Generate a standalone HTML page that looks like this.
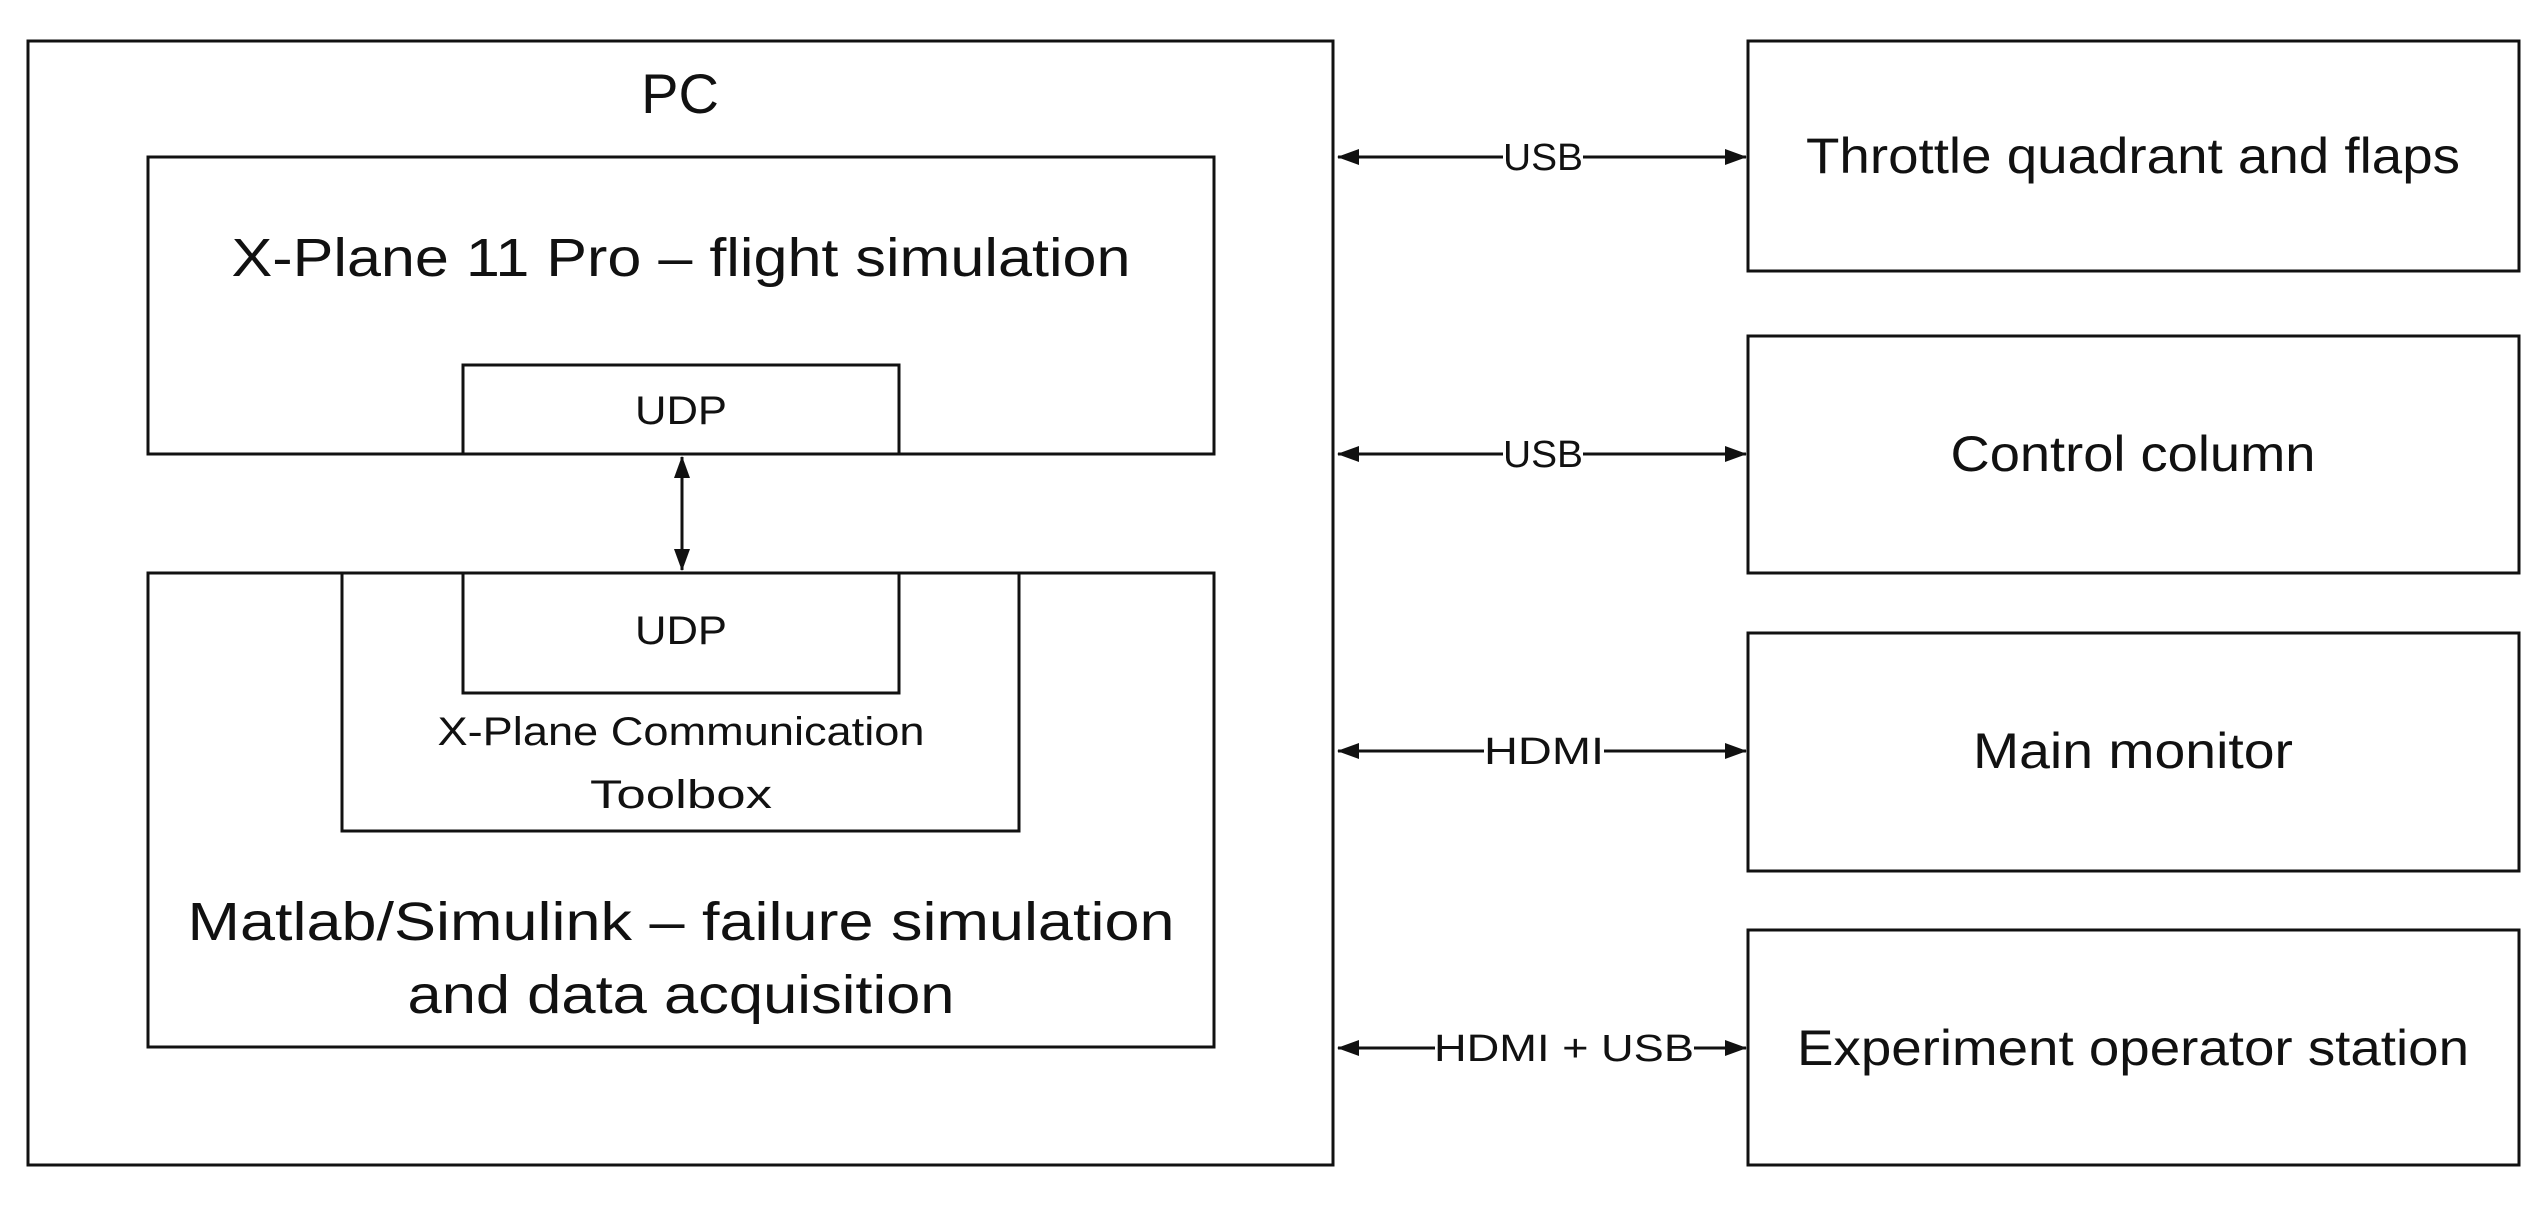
<!DOCTYPE html>
<html><head><meta charset="utf-8"><style>
html,body{margin:0;padding:0;background:#fff;}
svg{display:block;}
text{font-family:"Liberation Sans",sans-serif;fill:#111;}
</style></head><body>
<svg width="2545" height="1209" viewBox="0 0 2545 1209" xmlns="http://www.w3.org/2000/svg">
<defs>
<marker id="a" markerWidth="22" markerHeight="16" refX="21" refY="8" orient="auto-start-reverse" markerUnits="userSpaceOnUse" viewBox="0 0 22 16">
<path d="M0,0 L22,8 L0,16 z" fill="#111"/>
</marker>
</defs>
<g fill="none" stroke="#111" stroke-width="3">
<rect x="28" y="41" width="1305" height="1124"/>
<rect x="148" y="157" width="1066" height="297"/>
<rect x="463" y="365" width="436" height="89"/>
<rect x="148" y="573" width="1066" height="474"/>
<rect x="342" y="573" width="677" height="258"/>
<rect x="463" y="573" width="436" height="120"/>
<rect x="1748" y="41" width="771" height="230"/>
<rect x="1748" y="336" width="771" height="237"/>
<rect x="1748" y="633" width="771" height="238"/>
<rect x="1748" y="930" width="771" height="235"/>
</g>
<g stroke="#111" stroke-width="3" fill="none">
<line x1="682" y1="457" x2="682" y2="570" marker-start="url(#a)" marker-end="url(#a)"/>
<line x1="1338" y1="157" x2="1503" y2="157" marker-start="url(#a)"/>
<line x1="1583" y1="157" x2="1746" y2="157" marker-end="url(#a)"/>
<line x1="1338" y1="454" x2="1503" y2="454" marker-start="url(#a)"/>
<line x1="1583" y1="454" x2="1746" y2="454" marker-end="url(#a)"/>
<line x1="1338" y1="751" x2="1484" y2="751" marker-start="url(#a)"/>
<line x1="1604" y1="751" x2="1746" y2="751" marker-end="url(#a)"/>
<line x1="1338" y1="1048" x2="1435" y2="1048" marker-start="url(#a)"/>
<line x1="1694" y1="1048" x2="1746" y2="1048" marker-end="url(#a)"/>
</g>
<g text-anchor="middle">
<text x="680" y="113" font-size="56">PC</text>
<text x="681" y="276" font-size="54" textLength="899" lengthAdjust="spacingAndGlyphs">X-Plane 11 Pro – flight simulation</text>
<text x="681" y="424" font-size="40" textLength="92" lengthAdjust="spacingAndGlyphs">UDP</text>
<text x="681" y="644" font-size="40" textLength="92" lengthAdjust="spacingAndGlyphs">UDP</text>
<text x="681" y="745" font-size="40" textLength="487" lengthAdjust="spacingAndGlyphs">X-Plane Communication</text>
<text x="681" y="808" font-size="40" textLength="182" lengthAdjust="spacingAndGlyphs">Toolbox</text>
<text x="681" y="940" font-size="54" textLength="987" lengthAdjust="spacingAndGlyphs">Matlab/Simulink – failure simulation</text>
<text x="681" y="1013" font-size="54" textLength="547" lengthAdjust="spacingAndGlyphs">and data acquisition</text>
<text x="1543" y="170" font-size="38" textLength="80" lengthAdjust="spacingAndGlyphs">USB</text>
<text x="1543" y="467" font-size="38" textLength="80" lengthAdjust="spacingAndGlyphs">USB</text>
<text x="1544" y="764" font-size="38" textLength="120" lengthAdjust="spacingAndGlyphs">HDMI</text>
<text x="1564" y="1061" font-size="38" textLength="260" lengthAdjust="spacingAndGlyphs">HDMI + USB</text>
<text x="2133" y="173" font-size="50" textLength="654" lengthAdjust="spacingAndGlyphs">Throttle quadrant and flaps</text>
<text x="2133" y="471" font-size="50" textLength="365" lengthAdjust="spacingAndGlyphs">Control column</text>
<text x="2133" y="768" font-size="50" textLength="320" lengthAdjust="spacingAndGlyphs">Main monitor</text>
<text x="2133" y="1065" font-size="50" textLength="672" lengthAdjust="spacingAndGlyphs">Experiment operator station</text>
</g>
</svg>
</body></html>
